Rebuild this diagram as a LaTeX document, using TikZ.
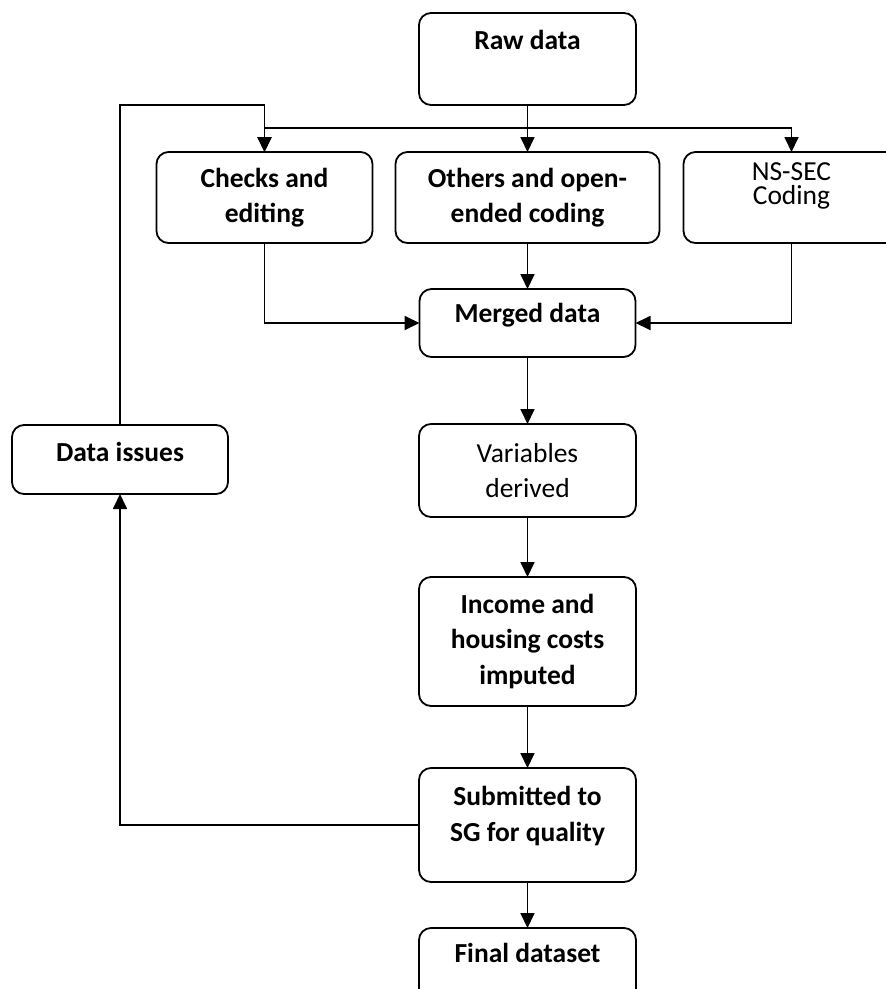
\documentclass[tikz,border=0pt]{standalone}
\usepackage{fontspec}
\setmainfont{Carlito}
\usetikzlibrary{positioning,arrows.meta}

\begin{document}
\begin{tikzpicture}[x=1pt, y=-1pt,
   flownode/.style={align=center, draw=black, line width=1.8pt, rounded corners=12pt, inner sep=2pt, outer sep=0pt, minimum width=217pt, font=\fontsize{27.5}{35.5}\selectfont\bfseries},
   flownode1/.style={flownode, font=\fontsize{27.5}{35.5}\selectfont},
   toptext/.style 2 args={text height=#1, text depth=#2},
   link/.style={line width=1.8pt, -{Triangle[length=15pt, width=14pt]}}
  ]
  \useasboundingbox (0,0) rectangle (886,989);
  % main column
  \node[flownode, minimum height=92pt, toptext={20pt}{40pt}] (raw) at (527.5,59) {Raw data};
  \node[flownode, minimum width=264pt, minimum height=91pt, below=47pt of raw] (others) {Others and open-\\ended coding};
  \node[flownode, minimum width=216pt, minimum height=91pt, left=23pt of others] (checks) {Checks and\\editing};
  \node[flownode1, minimum width=216pt, minimum height=91pt, right=24pt of others, font=\fontsize{27.5}{24.5}\selectfont, toptext={44pt}{30pt}] (nssec) {NS-SEC\\Coding};
  \node[flownode, minimum width=216pt, minimum height=68pt, below=46pt of others, toptext={20pt}{22pt}] (merged) {Merged data};
  \node[flownode1, minimum height=93pt, below=67pt of merged] (vars) {Variables\\derived};
  \node[flownode, minimum height=129pt, below=60pt of vars] (income) {Income and\\housing costs\\imputed};
  \node[flownode, minimum height=114pt, below=62pt of income, toptext={56pt}{24pt}] (submitted) {Submitted to\\SG for quality};
  \node[flownode, minimum height=92pt, below=46pt of submitted, toptext={20pt}{44pt}] (final) {Final dataset};
  \node[flownode, minimum width=216pt, minimum height=69pt, toptext={20pt}{17pt}] (issues) at (120,459.5) {Data issues};

  \coordinate[below=23pt of raw.south] (fork);
  \coordinate (loop) at (checks.north |- raw.south);

  % connectors
  \draw[link] (raw) -- (others);
  \draw[link] (fork) -| (checks);
  \draw[link] (fork) -| (nssec);
  \draw[link] (checks) |- (merged);
  \draw[link] (nssec) |- (merged);
  \draw[link] (others) -- (merged);
  \draw[link] (merged) -- (vars);
  \draw[link] (vars) -- (income);
  \draw[link] (income) -- (submitted);
  \draw[link] (submitted) -- (final);
  \draw[link] (submitted) -| (issues);
  \draw[link] (issues) |- (loop) -- (checks);
\end{tikzpicture}
\end{document}
